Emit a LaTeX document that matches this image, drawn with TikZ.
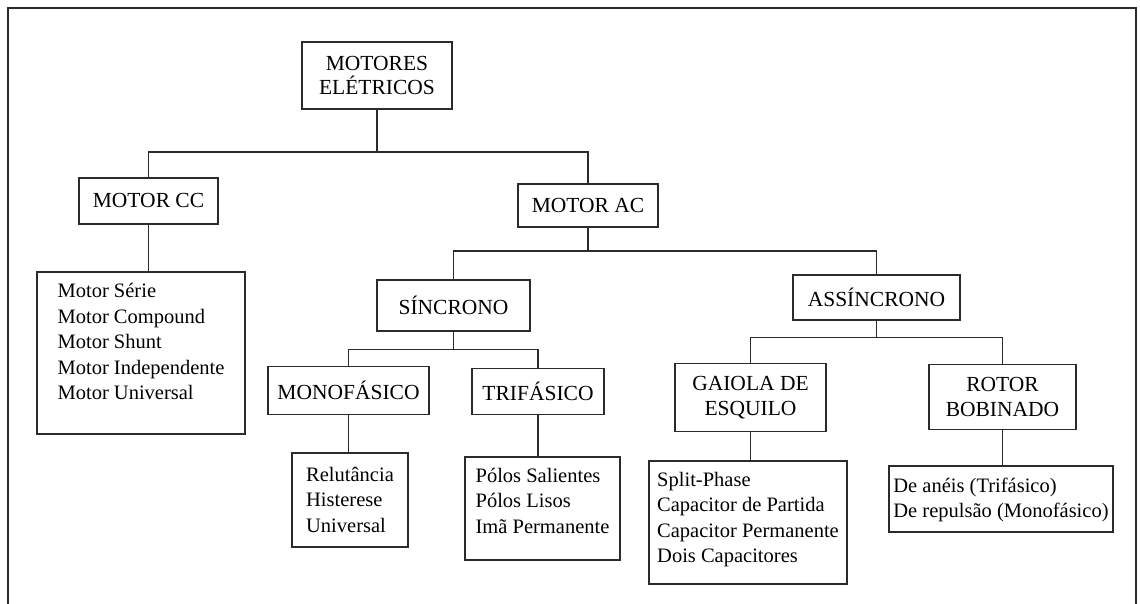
\documentclass[tikz,border=0pt]{standalone}
\usepackage{fontspec}
\setmainfont{Liberation Serif}
\usetikzlibrary{positioning}
\definecolor{LinhaCinza}{HTML}{2B2B2B}

\begin{document}
\begin{tikzpicture}[
        % Estilo para as caixas de categoria
        caixa/.style={
                rectangle,
                draw=LinhaCinza,
                line width=1.8pt,
                align=center,
                inner sep=2pt,
                font=\fontsize{21.5pt}{24.5pt}\selectfont,
                text=black
            },
        % Estilo para as caixas de lista
        lista/.style={
                rectangle,
                draw=LinhaCinza,
                line width=1.8pt,
                align=left,
                inner ysep=0pt,
                inner xsep=2pt,
                font=\fontsize{20.5pt}{25.5pt}\selectfont,
                text=black
            },
        % Ligações
        ligacao/.style={
                draw=LinhaCinza,
                line width=1.8pt
            }
    ]

    \useasboundingbox (0,0) rectangle (1140pt,-604pt);

    % Moldura
    \draw[LinhaCinza, line width=2.2pt] (8pt,-604pt) -- (8pt,-8pt) -- (1136pt,-8pt) -- (1136pt,-604pt);

    % Raiz
    \node[caixa, minimum width=150pt, minimum height=67pt] (motores) at (377pt,-75.5pt) {MOTORES\\ELÉTRICOS};

    % Primeiro nível
    \node[caixa, minimum width=139pt, minimum height=46pt, below=67pt of motores, xshift=-228.5pt] (motorcc) {MOTOR CC};
    \node[caixa, minimum width=140pt, minimum height=43pt, below=73pt of motores, xshift=211pt] (motorac) {MOTOR AC};

    \node[lista, minimum width=208pt, text height=128pt, text depth=34pt, below=46pt of motorcc, xshift=-7.5pt] (listacc) {
        Motor Série\\
        Motor Compound\\
        Motor Shunt\\
        Motor Independente\\
        Motor Universal
    };

    % Segundo nível
    \node[caixa, minimum width=153pt, minimum height=51pt, below=51pt of motorac, xshift=-134.5pt] (sincrono) {SÍNCRONO};
    \node[caixa, minimum width=167pt, minimum height=45pt, below=46pt of motorac, xshift=288.5pt] (assincrono) {ASSÍNCRONO};

    % Terceiro nível
    \node[caixa, minimum width=161pt, minimum height=48pt, below=34pt of sincrono, xshift=-105pt] (mono) {MONOFÁSICO};
    \node[caixa, minimum width=132pt, minimum height=46pt, below=36pt of sincrono, xshift=84.5pt] (tri) {TRIFÁSICO};
    \node[caixa, minimum width=151pt, minimum height=68pt, below=42pt of assincrono, xshift=-126pt] (gaiola) {GAIOLA DE\\ESQUILO};
    \node[caixa, minimum width=147pt, minimum height=65pt, below=43pt of assincrono, xshift=126pt] (rotor) {ROTOR\\BOBINADO};

    % Listas
    \node[lista, minimum width=116pt, text height=79pt, text depth=15pt, below=37pt of mono, xshift=1.5pt] (listamono) {
        Relutância\\
        Histerese\\
        Universal
    };
    \node[lista, minimum width=155pt, text height=76pt, text depth=27pt, below=41pt of tri, xshift=4.5pt] (listatri) {
        Pólos Salientes\\
        Pólos Lisos\\
        Imã Permanente
    };
    \node[lista, minimum width=198pt, text height=101.5pt, text depth=21.5pt, below=28pt of gaiola, xshift=-2.5pt] (listagaiola) {
        Split-Phase\\
        Capacitor de Partida\\
        Capacitor Permanente\\
        Dois Capacitores
    };
    \node[lista, minimum width=224pt, text height=51.5pt, text depth=14.5pt, below=35pt of rotor, xshift=-1.5pt] (listarotor) {
        De anéis (Trifásico)\\
        De repulsão (Monofásico)
    };

    % Ligações
    \draw[ligacao] (motores.south) -- ++(0,-42pt) -| (motorcc.north);
    \draw[ligacao] (motores.south) -- ++(0,-42pt) -| (motorac.north);
    \draw[ligacao] (motorcc.south) -- (motorcc.south |- listacc.north);

    \draw[ligacao] (motorac.south) -- ++(0,-23pt) -| (sincrono.north);
    \draw[ligacao] (motorac.south) -- ++(0,-23pt) -| (assincrono.north);

    \draw[ligacao] (sincrono.south) -- ++(0,-18pt) -| (mono.north);
    \draw[ligacao] (sincrono.south) -- ++(0,-18pt) -| (tri.north);
    \draw[ligacao] (assincrono.south) -- ++(0,-17pt) -| (gaiola.north);
    \draw[ligacao] (assincrono.south) -- ++(0,-17pt) -| (rotor.north);

    \draw[ligacao] (mono.south) -- (mono.south |- listamono.north);
    \draw[ligacao] (tri.south) -- (tri.south |- listatri.north);
    \draw[ligacao] (gaiola.south) -- (gaiola.south |- listagaiola.north);
    \draw[ligacao] (rotor.south) -- (rotor.south |- listarotor.north);

\end{tikzpicture}
\end{document}
